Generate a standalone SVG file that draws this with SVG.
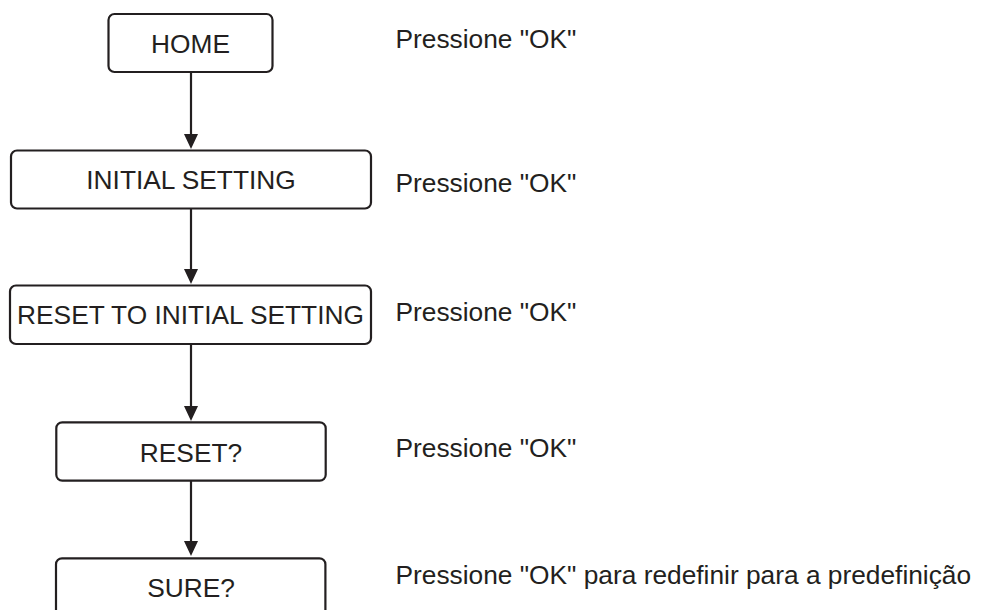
<svg xmlns="http://www.w3.org/2000/svg" width="982" height="610" viewBox="0 0 982 610">
  <style>
    .box { fill: #ffffff; stroke: #231f20; stroke-width: 2.2; }
    .lbl { font-family: "Liberation Sans", Arial, sans-serif; font-size: 26.3px; fill: #231f20; text-anchor: middle; }
    .note { font-family: "Liberation Sans", Arial, sans-serif; font-size: 26.3px; fill: #231f20; }
    .conn { stroke: #231f20; stroke-width: 2.2; fill: none; marker-end: url(#arrow); }
  </style>
  <defs>
    <marker id="arrow" viewBox="0 -7 15 14" refX="5" refY="0" markerWidth="15" markerHeight="14" markerUnits="userSpaceOnUse" orient="auto">
      <path d="M0,-7 L15,0 L0,7 Z" fill="#231f20"/>
    </marker>
  </defs>
  <rect width="982" height="610" fill="#ffffff"/>

  <g id="connectors">
    <line class="conn" x1="191" y1="72" x2="191" y2="139"/>
    <line class="conn" x1="191" y1="208" x2="191" y2="274"/>
    <line class="conn" x1="191" y1="344" x2="191" y2="411"/>
    <line class="conn" x1="191" y1="481" x2="191" y2="546"/>
  </g>

  <g id="home">
    <rect class="box" x="108.5" y="14" width="164" height="58" rx="6"/>
    <text class="lbl" x="190.5" y="53">HOME</text>
  </g>
  <g id="initial-setting">
    <rect class="box" x="11" y="150.5" width="360" height="58" rx="6"/>
    <text class="lbl" x="191" y="189">INITIAL SETTING</text>
  </g>
  <g id="reset-to-initial">
    <rect class="box" x="10" y="285.5" width="361" height="58.5" rx="6"/>
    <text class="lbl" x="190.5" y="324.3">RESET TO INITIAL SETTING</text>
  </g>
  <g id="reset">
    <rect class="box" x="56.3" y="422.3" width="269.4" height="58.4" rx="6"/>
    <text class="lbl" x="191" y="461.7">RESET?</text>
  </g>
  <g id="sure">
    <rect class="box" x="56" y="558.3" width="269.4" height="58.4" rx="6"/>
    <text class="lbl" x="191" y="596.7">SURE?</text>
  </g>

  <g id="notes">
    <text class="note" x="395.5" y="48.3">Pressione "OK"</text>
    <text class="note" x="395.5" y="191.7">Pressione "OK"</text>
    <text class="note" x="395.5" y="320.7">Pressione "OK"</text>
    <text class="note" x="395.5" y="456.7">Pressione "OK"</text>
    <text class="note" x="395.5" y="584">Pressione "OK" para redefinir para a predefinição</text>
  </g>
</svg>
